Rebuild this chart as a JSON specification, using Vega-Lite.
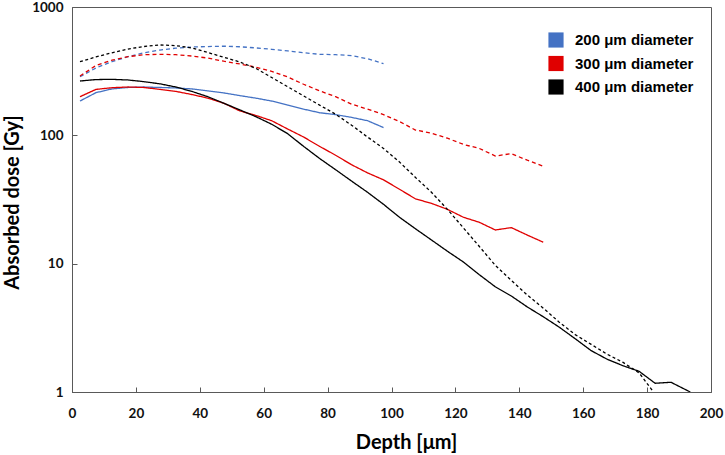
{
  "$schema": "https://vega.github.io/schema/vega-lite/v6.json",
  "width": 639,
  "height": 385,
  "autosize": "none",
  "padding": {"left": 72, "top": 7, "right": 14, "bottom": 63},
  "background": "white",
  "config": {
    "view": {"stroke": "#595959", "strokeWidth": 1},
    "axis": {"domainColor": "#595959", "tickColor": "#595959", "grid": false, "labelFlush": false, "labelFont": "Lato", "labelFontSize": 13.5, "labelFontWeight": "bold", "labelColor": "#111111", "titleFont": "Lato", "titleFontSize": 20, "titleFontWeight": "bold", "titleColor": "#000000", "tickSize": -5}
  },
  "data": {"values": [
    {"depth": 2.5, "dose": 185, "diameter": "200 μm diameter", "style": "solid", "curve": "b1"},
    {"depth": 7.5, "dose": 215, "diameter": "200 μm diameter", "style": "solid", "curve": "b1"},
    {"depth": 12.5, "dose": 230, "diameter": "200 μm diameter", "style": "solid", "curve": "b1"},
    {"depth": 17.5, "dose": 236, "diameter": "200 μm diameter", "style": "solid", "curve": "b1"},
    {"depth": 22.5, "dose": 238, "diameter": "200 μm diameter", "style": "solid", "curve": "b1"},
    {"depth": 27.5, "dose": 236, "diameter": "200 μm diameter", "style": "solid", "curve": "b1"},
    {"depth": 32.5, "dose": 234, "diameter": "200 μm diameter", "style": "solid", "curve": "b1"},
    {"depth": 37.5, "dose": 230, "diameter": "200 μm diameter", "style": "solid", "curve": "b1"},
    {"depth": 42.5, "dose": 222, "diameter": "200 μm diameter", "style": "solid", "curve": "b1"},
    {"depth": 47.5, "dose": 214, "diameter": "200 μm diameter", "style": "solid", "curve": "b1"},
    {"depth": 52.5, "dose": 204, "diameter": "200 μm diameter", "style": "solid", "curve": "b1"},
    {"depth": 57.5, "dose": 195, "diameter": "200 μm diameter", "style": "solid", "curve": "b1"},
    {"depth": 62.5, "dose": 185, "diameter": "200 μm diameter", "style": "solid", "curve": "b1"},
    {"depth": 67.5, "dose": 172, "diameter": "200 μm diameter", "style": "solid", "curve": "b1"},
    {"depth": 72.5, "dose": 160, "diameter": "200 μm diameter", "style": "solid", "curve": "b1"},
    {"depth": 77.5, "dose": 150, "diameter": "200 μm diameter", "style": "solid", "curve": "b1"},
    {"depth": 82.5, "dose": 145, "diameter": "200 μm diameter", "style": "solid", "curve": "b1"},
    {"depth": 87.5, "dose": 138, "diameter": "200 μm diameter", "style": "solid", "curve": "b1"},
    {"depth": 92.5, "dose": 130, "diameter": "200 μm diameter", "style": "solid", "curve": "b1"},
    {"depth": 97.5, "dose": 115, "diameter": "200 μm diameter", "style": "solid", "curve": "b1"},

    {"depth": 2.5, "dose": 286, "diameter": "200 μm diameter", "style": "dash", "curve": "b2"},
    {"depth": 7.5, "dose": 335, "diameter": "200 μm diameter", "style": "dash", "curve": "b2"},
    {"depth": 12.5, "dose": 375, "diameter": "200 μm diameter", "style": "dash", "curve": "b2"},
    {"depth": 17.5, "dose": 410, "diameter": "200 μm diameter", "style": "dash", "curve": "b2"},
    {"depth": 22.5, "dose": 440, "diameter": "200 μm diameter", "style": "dash", "curve": "b2"},
    {"depth": 27.5, "dose": 462, "diameter": "200 μm diameter", "style": "dash", "curve": "b2"},
    {"depth": 32.5, "dose": 478, "diameter": "200 μm diameter", "style": "dash", "curve": "b2"},
    {"depth": 37.5, "dose": 488, "diameter": "200 μm diameter", "style": "dash", "curve": "b2"},
    {"depth": 42.5, "dose": 492, "diameter": "200 μm diameter", "style": "dash", "curve": "b2"},
    {"depth": 47.5, "dose": 495, "diameter": "200 μm diameter", "style": "dash", "curve": "b2"},
    {"depth": 52.5, "dose": 490, "diameter": "200 μm diameter", "style": "dash", "curve": "b2"},
    {"depth": 57.5, "dose": 480, "diameter": "200 μm diameter", "style": "dash", "curve": "b2"},
    {"depth": 62.5, "dose": 468, "diameter": "200 μm diameter", "style": "dash", "curve": "b2"},
    {"depth": 67.5, "dose": 455, "diameter": "200 μm diameter", "style": "dash", "curve": "b2"},
    {"depth": 72.5, "dose": 440, "diameter": "200 μm diameter", "style": "dash", "curve": "b2"},
    {"depth": 77.5, "dose": 428, "diameter": "200 μm diameter", "style": "dash", "curve": "b2"},
    {"depth": 82.5, "dose": 425, "diameter": "200 μm diameter", "style": "dash", "curve": "b2"},
    {"depth": 87.5, "dose": 418, "diameter": "200 μm diameter", "style": "dash", "curve": "b2"},
    {"depth": 92.5, "dose": 395, "diameter": "200 μm diameter", "style": "dash", "curve": "b2"},
    {"depth": 97.5, "dose": 362, "diameter": "200 μm diameter", "style": "dash", "curve": "b2"},

    {"depth": 2.5, "dose": 200, "diameter": "300 μm diameter", "style": "solid", "curve": "r1"},
    {"depth": 7.5, "dose": 228, "diameter": "300 μm diameter", "style": "solid", "curve": "r1"},
    {"depth": 12.5, "dose": 235, "diameter": "300 μm diameter", "style": "solid", "curve": "r1"},
    {"depth": 17.5, "dose": 238, "diameter": "300 μm diameter", "style": "solid", "curve": "r1"},
    {"depth": 22.5, "dose": 236, "diameter": "300 μm diameter", "style": "solid", "curve": "r1"},
    {"depth": 27.5, "dose": 228, "diameter": "300 μm diameter", "style": "solid", "curve": "r1"},
    {"depth": 32.5, "dose": 220, "diameter": "300 μm diameter", "style": "solid", "curve": "r1"},
    {"depth": 37.5, "dose": 208, "diameter": "300 μm diameter", "style": "solid", "curve": "r1"},
    {"depth": 42.5, "dose": 195, "diameter": "300 μm diameter", "style": "solid", "curve": "r1"},
    {"depth": 47.5, "dose": 178, "diameter": "300 μm diameter", "style": "solid", "curve": "r1"},
    {"depth": 52.5, "dose": 155, "diameter": "300 μm diameter", "style": "solid", "curve": "r1"},
    {"depth": 57.5, "dose": 143, "diameter": "300 μm diameter", "style": "solid", "curve": "r1"},
    {"depth": 62.5, "dose": 130, "diameter": "300 μm diameter", "style": "solid", "curve": "r1"},
    {"depth": 67.5, "dose": 112, "diameter": "300 μm diameter", "style": "solid", "curve": "r1"},
    {"depth": 72.5, "dose": 97, "diameter": "300 μm diameter", "style": "solid", "curve": "r1"},
    {"depth": 77.5, "dose": 82, "diameter": "300 μm diameter", "style": "solid", "curve": "r1"},
    {"depth": 82.5, "dose": 70, "diameter": "300 μm diameter", "style": "solid", "curve": "r1"},
    {"depth": 87.5, "dose": 59, "diameter": "300 μm diameter", "style": "solid", "curve": "r1"},
    {"depth": 92.5, "dose": 51, "diameter": "300 μm diameter", "style": "solid", "curve": "r1"},
    {"depth": 97.5, "dose": 45, "diameter": "300 μm diameter", "style": "solid", "curve": "r1"},
    {"depth": 102.5, "dose": 38, "diameter": "300 μm diameter", "style": "solid", "curve": "r1"},
    {"depth": 107.5, "dose": 32, "diameter": "300 μm diameter", "style": "solid", "curve": "r1"},
    {"depth": 112.5, "dose": 29.5, "diameter": "300 μm diameter", "style": "solid", "curve": "r1"},
    {"depth": 117.5, "dose": 26.5, "diameter": "300 μm diameter", "style": "solid", "curve": "r1"},
    {"depth": 122.5, "dose": 23, "diameter": "300 μm diameter", "style": "solid", "curve": "r1"},
    {"depth": 127.5, "dose": 21, "diameter": "300 μm diameter", "style": "solid", "curve": "r1"},
    {"depth": 132.5, "dose": 18.3, "diameter": "300 μm diameter", "style": "solid", "curve": "r1"},
    {"depth": 137.5, "dose": 19.1, "diameter": "300 μm diameter", "style": "solid", "curve": "r1"},
    {"depth": 142.5, "dose": 16.7, "diameter": "300 μm diameter", "style": "solid", "curve": "r1"},
    {"depth": 147.5, "dose": 14.7, "diameter": "300 μm diameter", "style": "solid", "curve": "r1"},

    {"depth": 2.5, "dose": 290, "diameter": "300 μm diameter", "style": "dash", "curve": "r2"},
    {"depth": 7.5, "dose": 350, "diameter": "300 μm diameter", "style": "dash", "curve": "r2"},
    {"depth": 12.5, "dose": 385, "diameter": "300 μm diameter", "style": "dash", "curve": "r2"},
    {"depth": 17.5, "dose": 410, "diameter": "300 μm diameter", "style": "dash", "curve": "r2"},
    {"depth": 22.5, "dose": 425, "diameter": "300 μm diameter", "style": "dash", "curve": "r2"},
    {"depth": 27.5, "dose": 428, "diameter": "300 μm diameter", "style": "dash", "curve": "r2"},
    {"depth": 32.5, "dose": 425, "diameter": "300 μm diameter", "style": "dash", "curve": "r2"},
    {"depth": 37.5, "dose": 415, "diameter": "300 μm diameter", "style": "dash", "curve": "r2"},
    {"depth": 42.5, "dose": 400, "diameter": "300 μm diameter", "style": "dash", "curve": "r2"},
    {"depth": 47.5, "dose": 378, "diameter": "300 μm diameter", "style": "dash", "curve": "r2"},
    {"depth": 52.5, "dose": 360, "diameter": "300 μm diameter", "style": "dash", "curve": "r2"},
    {"depth": 57.5, "dose": 340, "diameter": "300 μm diameter", "style": "dash", "curve": "r2"},
    {"depth": 62.5, "dose": 315, "diameter": "300 μm diameter", "style": "dash", "curve": "r2"},
    {"depth": 67.5, "dose": 285, "diameter": "300 μm diameter", "style": "dash", "curve": "r2"},
    {"depth": 72.5, "dose": 250, "diameter": "300 μm diameter", "style": "dash", "curve": "r2"},
    {"depth": 77.5, "dose": 222, "diameter": "300 μm diameter", "style": "dash", "curve": "r2"},
    {"depth": 82.5, "dose": 200, "diameter": "300 μm diameter", "style": "dash", "curve": "r2"},
    {"depth": 87.5, "dose": 175, "diameter": "300 μm diameter", "style": "dash", "curve": "r2"},
    {"depth": 92.5, "dose": 160, "diameter": "300 μm diameter", "style": "dash", "curve": "r2"},
    {"depth": 97.5, "dose": 145, "diameter": "300 μm diameter", "style": "dash", "curve": "r2"},
    {"depth": 102.5, "dose": 128, "diameter": "300 μm diameter", "style": "dash", "curve": "r2"},
    {"depth": 107.5, "dose": 110, "diameter": "300 μm diameter", "style": "dash", "curve": "r2"},
    {"depth": 112.5, "dose": 104, "diameter": "300 μm diameter", "style": "dash", "curve": "r2"},
    {"depth": 117.5, "dose": 95, "diameter": "300 μm diameter", "style": "dash", "curve": "r2"},
    {"depth": 122.5, "dose": 85, "diameter": "300 μm diameter", "style": "dash", "curve": "r2"},
    {"depth": 127.5, "dose": 79, "diameter": "300 μm diameter", "style": "dash", "curve": "r2"},
    {"depth": 132.5, "dose": 69, "diameter": "300 μm diameter", "style": "dash", "curve": "r2"},
    {"depth": 137.5, "dose": 72, "diameter": "300 μm diameter", "style": "dash", "curve": "r2"},
    {"depth": 142.5, "dose": 64, "diameter": "300 μm diameter", "style": "dash", "curve": "r2"},
    {"depth": 147.5, "dose": 57.5, "diameter": "300 μm diameter", "style": "dash", "curve": "r2"},

    {"depth": 2.5, "dose": 265, "diameter": "400 μm diameter", "style": "solid", "curve": "k1"},
    {"depth": 7.5, "dose": 272, "diameter": "400 μm diameter", "style": "solid", "curve": "k1"},
    {"depth": 12.5, "dose": 273, "diameter": "400 μm diameter", "style": "solid", "curve": "k1"},
    {"depth": 17.5, "dose": 270, "diameter": "400 μm diameter", "style": "solid", "curve": "k1"},
    {"depth": 22.5, "dose": 262, "diameter": "400 μm diameter", "style": "solid", "curve": "k1"},
    {"depth": 27.5, "dose": 252, "diameter": "400 μm diameter", "style": "solid", "curve": "k1"},
    {"depth": 32.5, "dose": 238, "diameter": "400 μm diameter", "style": "solid", "curve": "k1"},
    {"depth": 37.5, "dose": 220, "diameter": "400 μm diameter", "style": "solid", "curve": "k1"},
    {"depth": 42.5, "dose": 200, "diameter": "400 μm diameter", "style": "solid", "curve": "k1"},
    {"depth": 47.5, "dose": 178, "diameter": "400 μm diameter", "style": "solid", "curve": "k1"},
    {"depth": 52.5, "dose": 158, "diameter": "400 μm diameter", "style": "solid", "curve": "k1"},
    {"depth": 57.5, "dose": 140, "diameter": "400 μm diameter", "style": "solid", "curve": "k1"},
    {"depth": 62.5, "dose": 122, "diameter": "400 μm diameter", "style": "solid", "curve": "k1"},
    {"depth": 67.5, "dose": 103, "diameter": "400 μm diameter", "style": "solid", "curve": "k1"},
    {"depth": 72.5, "dose": 82, "diameter": "400 μm diameter", "style": "solid", "curve": "k1"},
    {"depth": 77.5, "dose": 66, "diameter": "400 μm diameter", "style": "solid", "curve": "k1"},
    {"depth": 82.5, "dose": 54, "diameter": "400 μm diameter", "style": "solid", "curve": "k1"},
    {"depth": 87.5, "dose": 44, "diameter": "400 μm diameter", "style": "solid", "curve": "k1"},
    {"depth": 92.5, "dose": 36, "diameter": "400 μm diameter", "style": "solid", "curve": "k1"},
    {"depth": 97.5, "dose": 29, "diameter": "400 μm diameter", "style": "solid", "curve": "k1"},
    {"depth": 102.5, "dose": 23, "diameter": "400 μm diameter", "style": "solid", "curve": "k1"},
    {"depth": 107.5, "dose": 18.7, "diameter": "400 μm diameter", "style": "solid", "curve": "k1"},
    {"depth": 112.5, "dose": 15.3, "diameter": "400 μm diameter", "style": "solid", "curve": "k1"},
    {"depth": 117.5, "dose": 12.5, "diameter": "400 μm diameter", "style": "solid", "curve": "k1"},
    {"depth": 122.5, "dose": 10.3, "diameter": "400 μm diameter", "style": "solid", "curve": "k1"},
    {"depth": 127.5, "dose": 8.2, "diameter": "400 μm diameter", "style": "solid", "curve": "k1"},
    {"depth": 132.5, "dose": 6.6, "diameter": "400 μm diameter", "style": "solid", "curve": "k1"},
    {"depth": 137.5, "dose": 5.6, "diameter": "400 μm diameter", "style": "solid", "curve": "k1"},
    {"depth": 142.5, "dose": 4.6, "diameter": "400 μm diameter", "style": "solid", "curve": "k1"},
    {"depth": 147.5, "dose": 3.86, "diameter": "400 μm diameter", "style": "solid", "curve": "k1"},
    {"depth": 152.5, "dose": 3.2, "diameter": "400 μm diameter", "style": "solid", "curve": "k1"},
    {"depth": 157.5, "dose": 2.6, "diameter": "400 μm diameter", "style": "solid", "curve": "k1"},
    {"depth": 162.5, "dose": 2.1, "diameter": "400 μm diameter", "style": "solid", "curve": "k1"},
    {"depth": 167.5, "dose": 1.8, "diameter": "400 μm diameter", "style": "solid", "curve": "k1"},
    {"depth": 172.5, "dose": 1.6, "diameter": "400 μm diameter", "style": "solid", "curve": "k1"},
    {"depth": 177.5, "dose": 1.45, "diameter": "400 μm diameter", "style": "solid", "curve": "k1"},
    {"depth": 182.5, "dose": 1.17, "diameter": "400 μm diameter", "style": "solid", "curve": "k1"},
    {"depth": 187.5, "dose": 1.19, "diameter": "400 μm diameter", "style": "solid", "curve": "k1"},
    {"depth": 193.5, "dose": 1.0, "diameter": "400 μm diameter", "style": "solid", "curve": "k1"},

    {"depth": 2.5, "dose": 375, "diameter": "400 μm diameter", "style": "dot", "curve": "k2"},
    {"depth": 7.5, "dose": 408, "diameter": "400 μm diameter", "style": "dot", "curve": "k2"},
    {"depth": 12.5, "dose": 440, "diameter": "400 μm diameter", "style": "dot", "curve": "k2"},
    {"depth": 17.5, "dose": 470, "diameter": "400 μm diameter", "style": "dot", "curve": "k2"},
    {"depth": 22.5, "dose": 492, "diameter": "400 μm diameter", "style": "dot", "curve": "k2"},
    {"depth": 27.5, "dose": 506, "diameter": "400 μm diameter", "style": "dot", "curve": "k2"},
    {"depth": 32.5, "dose": 500, "diameter": "400 μm diameter", "style": "dot", "curve": "k2"},
    {"depth": 37.5, "dose": 480, "diameter": "400 μm diameter", "style": "dot", "curve": "k2"},
    {"depth": 42.5, "dose": 442, "diameter": "400 μm diameter", "style": "dot", "curve": "k2"},
    {"depth": 47.5, "dose": 406, "diameter": "400 μm diameter", "style": "dot", "curve": "k2"},
    {"depth": 52.5, "dose": 373, "diameter": "400 μm diameter", "style": "dot", "curve": "k2"},
    {"depth": 57.5, "dose": 333, "diameter": "400 μm diameter", "style": "dot", "curve": "k2"},
    {"depth": 62.5, "dose": 282, "diameter": "400 μm diameter", "style": "dot", "curve": "k2"},
    {"depth": 67.5, "dose": 239, "diameter": "400 μm diameter", "style": "dot", "curve": "k2"},
    {"depth": 72.5, "dose": 203, "diameter": "400 μm diameter", "style": "dot", "curve": "k2"},
    {"depth": 77.5, "dose": 172, "diameter": "400 μm diameter", "style": "dot", "curve": "k2"},
    {"depth": 82.5, "dose": 146, "diameter": "400 μm diameter", "style": "dot", "curve": "k2"},
    {"depth": 87.5, "dose": 120, "diameter": "400 μm diameter", "style": "dot", "curve": "k2"},
    {"depth": 92.5, "dose": 97, "diameter": "400 μm diameter", "style": "dot", "curve": "k2"},
    {"depth": 97.5, "dose": 79, "diameter": "400 μm diameter", "style": "dot", "curve": "k2"},
    {"depth": 102.5, "dose": 62, "diameter": "400 μm diameter", "style": "dot", "curve": "k2"},
    {"depth": 107.5, "dose": 47, "diameter": "400 μm diameter", "style": "dot", "curve": "k2"},
    {"depth": 112.5, "dose": 36, "diameter": "400 μm diameter", "style": "dot", "curve": "k2"},
    {"depth": 117.5, "dose": 26.5, "diameter": "400 μm diameter", "style": "dot", "curve": "k2"},
    {"depth": 122.5, "dose": 19, "diameter": "400 μm diameter", "style": "dot", "curve": "k2"},
    {"depth": 127.5, "dose": 13.6, "diameter": "400 μm diameter", "style": "dot", "curve": "k2"},
    {"depth": 132.5, "dose": 9.7, "diameter": "400 μm diameter", "style": "dot", "curve": "k2"},
    {"depth": 137.5, "dose": 7.4, "diameter": "400 μm diameter", "style": "dot", "curve": "k2"},
    {"depth": 142.5, "dose": 5.7, "diameter": "400 μm diameter", "style": "dot", "curve": "k2"},
    {"depth": 147.5, "dose": 4.5, "diameter": "400 μm diameter", "style": "dot", "curve": "k2"},
    {"depth": 152.5, "dose": 3.5, "diameter": "400 μm diameter", "style": "dot", "curve": "k2"},
    {"depth": 157.5, "dose": 2.8, "diameter": "400 μm diameter", "style": "dot", "curve": "k2"},
    {"depth": 162.5, "dose": 2.35, "diameter": "400 μm diameter", "style": "dot", "curve": "k2"},
    {"depth": 167.5, "dose": 1.97, "diameter": "400 μm diameter", "style": "dot", "curve": "k2"},
    {"depth": 172.5, "dose": 1.7, "diameter": "400 μm diameter", "style": "dot", "curve": "k2"},
    {"depth": 177.5, "dose": 1.41, "diameter": "400 μm diameter", "style": "dot", "curve": "k2"},
    {"depth": 182, "dose": 1.0, "diameter": "400 μm diameter", "style": "dot", "curve": "k2"}
  ]},
  "mark": {"type": "line", "strokeWidth": 1.3, "clip": true},
  "encoding": {
    "x": {"field": "depth", "type": "quantitative", "scale": {"domain": [0, 200], "nice": false}, "axis": {"values": [0, 20, 40, 60, 80, 100, 120, 140, 160, 180, 200], "title": "Depth [μm]", "labelPadding": 19, "titleX": 334, "titleY": 56, "titleBaseline": "alphabetic"}},
    "y": {"field": "dose", "type": "quantitative", "scale": {"type": "log", "domain": [1, 1000], "nice": false}, "axis": {"values": [1, 10, 100, 1000], "format": "d", "title": "Absorbed dose [Gy]", "labelPadding": 14, "titleX": -50, "titleY": 195}},
    "color": {"field": "diameter", "type": "nominal", "scale": {"domain": ["200 μm diameter", "300 μm diameter", "400 μm diameter"], "range": ["#4472C4", "#E00000", "#000000"]}, "legend": {"title": null, "orient": "none", "legendX": 476, "legendY": 25, "symbolType": "square", "symbolSize": 230, "symbolStrokeWidth": 0, "labelFont": "Liberation Sans", "labelFontSize": 15, "labelFontWeight": "bold", "labelColor": "#000000", "labelOffset": 11, "rowPadding": 7.5, "encode": {"symbols": {"update": {"fill": {"scale": "color", "field": "value"}, "fillOpacity": {"value": 1}, "strokeDash": {"value": [1, 0]}}}}}},
    "strokeDash": {"field": "style", "type": "nominal", "scale": {"domain": ["solid", "dash", "dot"], "range": [[1, 0], [4, 3], [3, 2.5]]}, "legend": null},
    "detail": {"field": "curve"}
  }
}
